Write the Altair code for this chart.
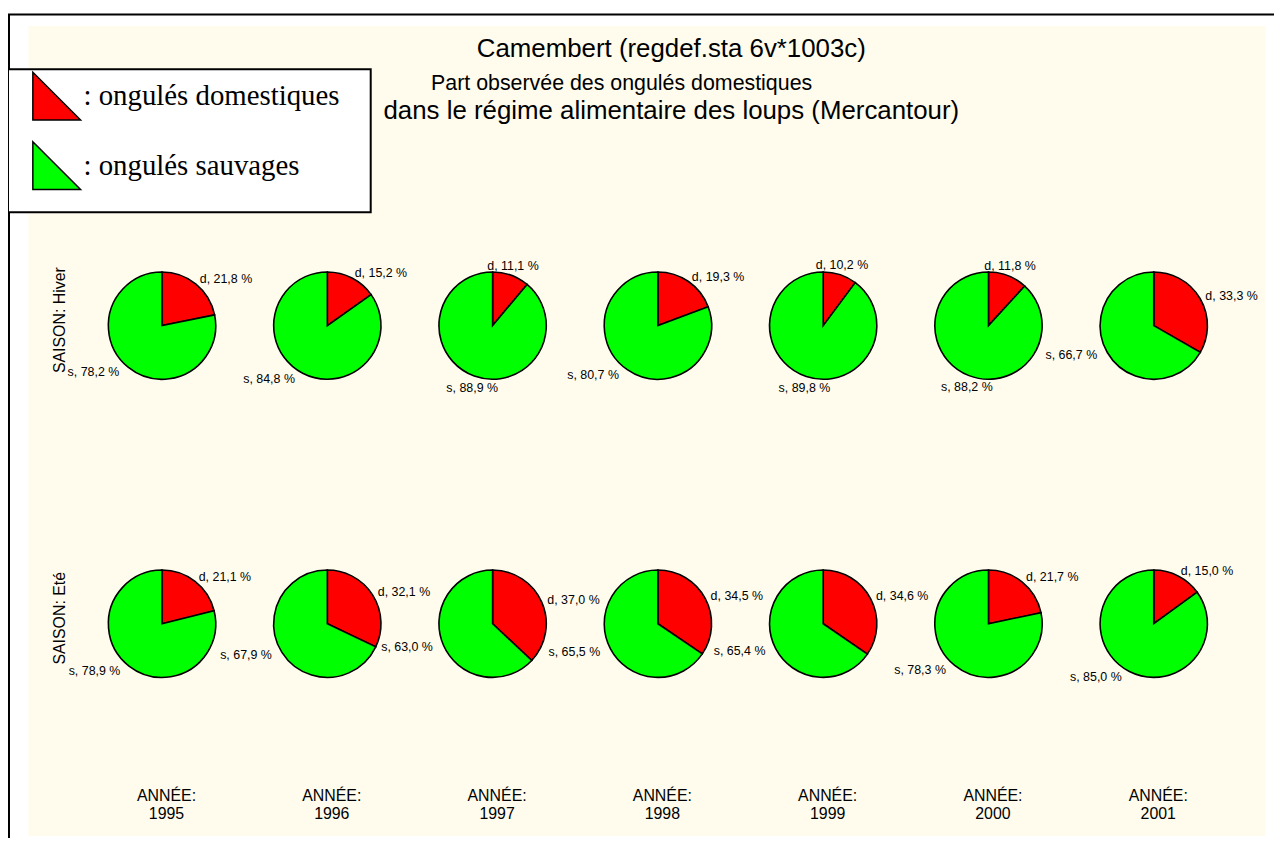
import altair as alt
import pandas as pd

# ---- data ----
annees = ["1995", "1996", "1997", "1998", "1999", "2000", "2001"]
saisons = ["Hiver", "Eté"]
dom_hiver = [21.8, 15.2, 11.1, 19.3, 10.2, 11.8, 33.3]
sauv_hiver = [78.2, 84.8, 88.9, 80.7, 89.8, 88.2, 66.7]
dom_ete = [21.1, 32.1, 37.0, 34.5, 34.6, 21.7, 15.0]
sauv_ete = [78.9, 67.9, 63.0, 65.5, 65.4, 78.3, 85.0]
parts = ["d", "s"]
part_colors = ["#FF0000", "#00FF00"]
legend_labels = [": ongulés domestiques", ": ongulés sauvages"]
title_lines = [
    "Camembert (regdef.sta 6v*1003c)",
    "Part observée des ongulés domestiques",
    "dans le régime alimentaire des loups (Mercantour)",
]

rows = []
for saison, dom, sauv in [("Hiver", dom_hiver, sauv_hiver), ("Eté", dom_ete, sauv_ete)]:
    for i, a in enumerate(annees):
        for k, (p, v) in enumerate(zip(parts, [dom[i], sauv[i]])):
            rows.append({
                "annee": a, "saison": saison, "part": p, "ordre": k, "val": v,
                "label": f"{p}, {v:.1f} %".replace(".", ","),
            })
df = pd.DataFrame(rows)

SANS = "Liberation Sans, Arial, sans-serif"
SERIF = "Liberation Serif, Times New Roman, serif"
PAD = "\u00a0" * 4 + "\u200b"   # keeps the legend box as wide as the reference

theta_scale = alt.Scale(domain=[0, 100], range=[0, 6.283185307179586])

X = alt.X(
    "annee:O",
    scale=alt.Scale(type="point", range=[135, 1133], padding=0),
    axis=alt.Axis(
        orient="bottom", offset=-48, labelPadding=0, ticks=False, domain=False, grid=False,
        labelExpr="['ANNÉE:', datum.label]", labelFontSize=16, labelLineHeight=18,
        labelFont=SANS, labelColor="black", labelAngle=0, labelOffset=4,
        labelBaseline="top", labelAlign="center",
        # second line of the chart heading, drawn in a smaller size as in the reference
        title=title_lines[1], titleFont=SANS, titleFontSize=21.5, titleFontWeight="normal",
        titleColor="black", titleAlign="center", titleBaseline="middle",
        titleX=597, titleY=-709,
    ),
)
Y = alt.Y(
    "saison:N",
    sort=saisons,
    scale=alt.Scale(type="point", range=[302, 602], padding=0),
    axis=alt.Axis(
        orient="left", offset=-32, labelPadding=0, ticks=False, domain=False, grid=False,
        labelExpr="'SAISON: ' + datum.label", labelFontSize=16, labelFont=SANS,
        labelColor="black", labelAngle=270, labelAlign="center", labelBaseline="middle",
        labelOffset=-6, title="",
    ),
)

legend_expr = "datum.value == '{}' ? '{}' : '{}'".format(
    parts[0], legend_labels[0] + PAD, legend_labels[1] + PAD
)

base = alt.Chart(df).transform_stack(
    stack="val", as_=["t0", "t1"], groupby=["annee", "saison"],
    sort=[alt.SortField("ordre", order="ascending")],
).transform_calculate(
    tm="(datum.t0 + datum.t1) / 2",
).transform_calculate(
    deg="datum.tm * 3.6",
).transform_calculate(
    pos="datum.deg < 25 ? 'T' : (datum.deg < 155 ? 'R' : (datum.deg < 205 ? 'B' : (datum.deg < 335 ? 'L' : 'T')))",
)

arcs = base.mark_arc(radius=54, stroke="black", strokeWidth=1.6).encode(
    x=X,
    y=Y,
    theta=alt.Theta("t0:Q", stack=False, scale=theta_scale),
    theta2="t1:Q",
    color=alt.Color(
        "part:N",
        scale=alt.Scale(domain=parts, range=part_colors),
        legend=alt.Legend(
            orient="none", legendX=-20, legendY=44,
            title="\u00a0", titleOrient="bottom", titleFontSize=16, titlePadding=2,
            padding=2, fillColor="white", strokeColor="black",
            symbolType="M-1,-1L-1,1L1,1Z", symbolSize=2304,
            symbolStrokeColor="black", symbolStrokeWidth=1.5, symbolOpacity=1,
            symbolOffset=22, labelOffset=2, rowPadding=16,
            labelFont=SERIF, labelFontSize=29, labelColor="black", labelLimit=1000,
            labelExpr=legend_expr,
        ),
    ),
)


def labels(pos, align, baseline, dx=0):
    return base.transform_filter(f"datum.pos == '{pos}'").mark_text(
        radius=60, align=align, baseline=baseline, dx=dx,
        font=SANS, fontSize=12.5, color="black",
    ).encode(
        x=X,
        y=Y,
        theta=alt.Theta("tm:Q", stack=False, scale=theta_scale),
        text="label:N",
    )


frame = alt.Chart(pd.DataFrame({"k": [0]})).mark_rect(
    fillOpacity=0, stroke="black", strokeWidth=2
).encode(
    x=alt.value(-19), y=alt.value(-11), x2=alt.value(1400), y2=alt.value(1000)
)

chart = alt.layer(
    frame,
    arcs,
    labels("T", "center", "alphabetic"),
    labels("R", "left", "middle"),
    labels("B", "center", "top"),
    labels("L", "right", "middle", dx=-5),
).properties(
    width=1245,
    height=815,
    autosize=alt.AutoSizeParams(type="none"),
    padding={"left": 20, "top": 15, "right": 9, "bottom": 0},
    title=alt.TitleParams(
        text=title_lines[0], subtitle=title_lines[2],
        anchor="middle", frame="group", dx=25, dy=111, offset=0,
        fontSize=26, font=SANS, fontWeight="normal", color="black",
        subtitleFontSize=26, subtitleFont=SANS, subtitleFontWeight="normal",
        subtitleColor="black", subtitlePadding=36,
    ),
).configure(
    background="white",
).configure_view(
    fill="#FFFCEE", stroke="transparent",
).configure_legend(
    strokeWidth=2,
)

chart.save("out.html", embed_options={"renderer": "svg", "actions": False})
